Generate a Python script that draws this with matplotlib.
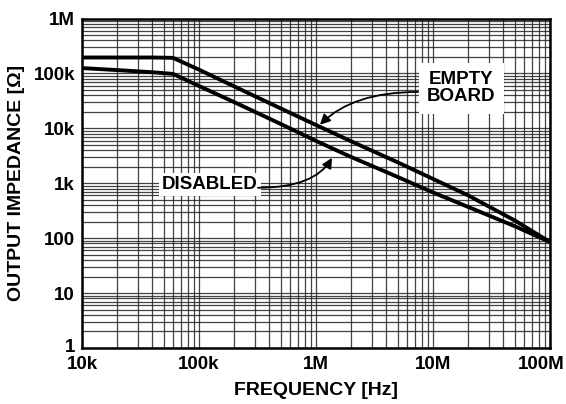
import numpy as np
import matplotlib.pyplot as plt
from matplotlib.ticker import LogLocator, NullFormatter
import matplotlib.transforms as mtransforms

plt.rcParams['font.family'] = ['Liberation Sans', 'DejaVu Sans']
plt.rcParams['font.weight'] = 'bold'

# frequency [Hz] and output impedance [ohm]
freq = [1e4, 2e4, 4e4, 6e4, 1e5, 2e5, 5e5, 1e6, 2e6, 5e6, 1e7, 2e7, 5e7, 1e8]
z_empty = [195e3, 195e3, 195e3, 192e3, 117e3, 58e3, 23e3, 11.5e3, 5.8e3, 2.4e3, 1.2e3, 600, 210, 85]
z_disabled = [125e3, 115e3, 105e3, 98e3, 59e3, 30e3, 12e3, 5.9e3, 3e3, 1.3e3, 680, 370, 165, 85]

xticks = [1e4, 1e5, 1e6, 1e7, 1e8]
xlabels = ['10k', '100k', '1M', '10M', '100M']
yticks = [1, 10, 100, 1e3, 1e4, 1e5, 1e6]
ylabels = ['1', '10', '100', '1k', '10k', '100k', '1M']

fig = plt.figure(figsize=(5.66, 4.04), dpi=100)
ax = fig.add_axes([82/566, 1 - 348/404, 468/566, 329.5/404])

ax.plot(freq, z_empty, color='black', lw=2.8, solid_capstyle='butt', zorder=3)
ax.plot(freq, z_disabled, color='black', lw=2.8, solid_capstyle='butt', zorder=3)

ax.set_xscale('log')
ax.set_yscale('log')
ax.set_xlim(1e4, 1e8)
ax.set_ylim(1, 1e6)

ax.set_xticks(xticks)
ax.set_xticklabels(xlabels)
ax.set_yticks(yticks)
ax.set_yticklabels(ylabels)
ax.xaxis.set_minor_locator(LogLocator(base=10, subs=np.arange(2, 10), numticks=20))
ax.yaxis.set_minor_locator(LogLocator(base=10, subs=np.arange(2, 10), numticks=20))
ax.xaxis.set_minor_formatter(NullFormatter())
ax.yaxis.set_minor_formatter(NullFormatter())
ax.tick_params(which='both', length=0, labelsize=13.5)
ax.tick_params(axis='x', pad=6)
ax.tick_params(axis='y', pad=5)

ax.grid(True, which='both', color='#222222', lw=0.9, alpha=0.85)
for s in ax.spines.values():
    s.set_linewidth(1.8)

# shift the last x label left so it fits, and the bottom y label up a touch
lbl = ax.get_xticklabels()[-1]
lbl.set_transform(lbl.get_transform() + mtransforms.ScaledTranslation(-9/100, 0, fig.dpi_scale_trans))
lbl = ax.get_yticklabels()[0]
lbl.set_transform(lbl.get_transform() + mtransforms.ScaledTranslation(0, 2/100, fig.dpi_scale_trans))

ax.set_xlabel('FREQUENCY [Hz]', fontsize=14, fontweight='bold', labelpad=6)
ax.set_ylabel('OUTPUT IMPEDANCE [\u03a9]', fontsize=14, fontweight='bold', labelpad=6)

# labels
ax.text(1.74e7, 5.4e4, 'EMPTY\nBOARD', ha='center', va='center', fontsize=13.5,
        fontweight='bold', linespacing=1.05, zorder=4,
        bbox=dict(facecolor='white', edgecolor='none', pad=6))
ax.text(1.24e5, 9.4e2, 'DISABLED', ha='center', va='center', fontsize=13.5,
        fontweight='bold', zorder=4,
        bbox=dict(facecolor='white', edgecolor='none', pad=2))

# arrows
ax.annotate('', xy=(1.08e6, 11.6e3), xytext=(7.45e6, 4.6e4), zorder=5,
            arrowprops=dict(arrowstyle='-|>', color='black', lw=1.3,
                            connectionstyle='angle3,angleA=0,angleB=45',
                            mutation_scale=15, shrinkA=0, shrinkB=0))
ax.annotate('', xy=(1.37e6, 2.91e3), xytext=(3.19e5, 8.28e2), zorder=5,
            arrowprops=dict(arrowstyle='-|>', color='black', lw=1.3,
                            connectionstyle='angle3,angleA=0,angleB=60',
                            mutation_scale=15, shrinkA=0, shrinkB=0))

fig.savefig('out.png', dpi=100)
